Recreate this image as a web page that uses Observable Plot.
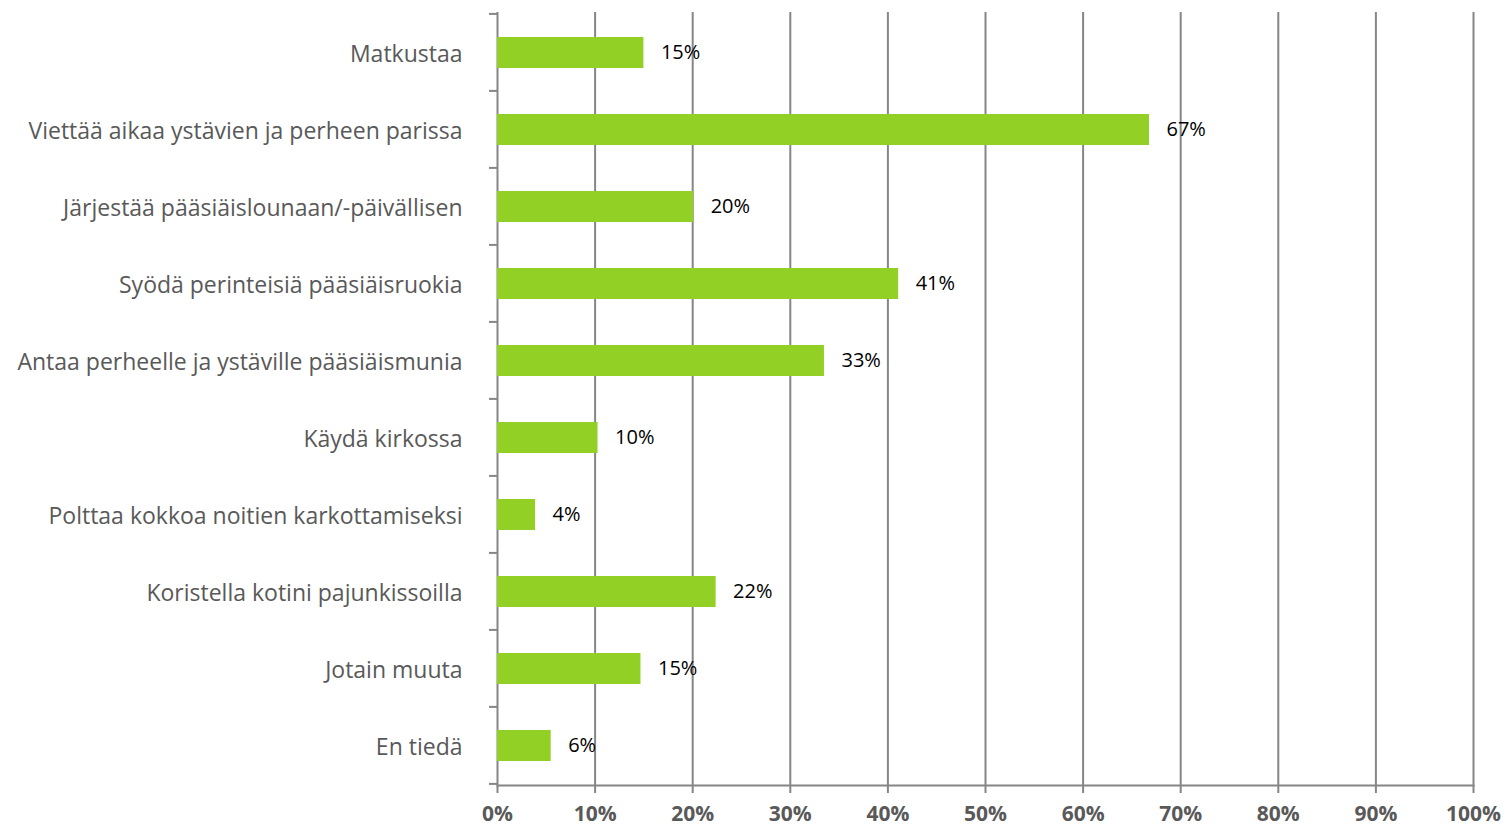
<!DOCTYPE html>
<html>
<head>
<meta charset="utf-8">
<script src="https://cdn.jsdelivr.net/npm/d3@7"></script>
<script src="https://cdn.jsdelivr.net/npm/@observablehq/plot@0.6"></script>
<style>
  html, body { margin: 0; padding: 0; background: #fff; }
  #chart svg { display: block; }
</style>
</head>
<body>
<div id="chart"></div>
<script>
const categories = [
  "Matkustaa",
  "Viettää aikaa ystävien ja perheen parissa",
  "Järjestää pääsiäislounaan/-päivällisen",
  "Syödä perinteisiä pääsiäisruokia",
  "Antaa perheelle ja ystäville pääsiäismunia",
  "Käydä kirkossa",
  "Polttaa kokkoa noitien karkottamiseksi",
  "Koristella kotini pajunkissoilla",
  "Jotain muuta",
  "En tiedä"
];
const values = [0.150, 0.668, 0.201, 0.411, 0.335, 0.103, 0.039, 0.224, 0.147, 0.055];
const valueLabels = ["15%", "67%", "20%", "41%", "33%", "10%", "4%", "22%", "15%", "6%"];
const xTicks = [0, 0.1, 0.2, 0.3, 0.4, 0.5, 0.6, 0.7, 0.8, 0.9, 1.0];

const data = categories.map((c, i) => ({category: c, value: values[i], label: valueLabels[i]}));

const gray = "#868686";
const barColor = "#93d025";

// short tick marks on the category boundaries, left of the y axis
function boundaryTicks(index, scales) {
  const g = d3.create("svg:g");
  const ys = categories.map(c => scales.y(c));
  const step = ys[1] - ys[0];
  const bw = step * 0.4;
  const pad = (step - bw) / 2;
  const x0 = scales.x(0);
  const bounds = ys.map(y => y - pad).concat([ys[ys.length - 1] + bw + pad]);
  for (const y of bounds) {
    g.append("line")
      .attr("x1", x0 - 8).attr("x2", x0)
      .attr("y1", y).attr("y2", y)
      .attr("stroke", gray).attr("stroke-width", 2);
  }
  return g.node();
}

const chart = Plot.plot({
  width: 1506,
  height: 829,
  marginLeft: 497,
  marginRight: 33,
  marginTop: 12,
  marginBottom: 44,
  style: {fontFamily: "'Open Sans', sans-serif", background: "#fff"},
  x: {domain: [0, 1]},
  y: {domain: categories, paddingInner: 0.6, paddingOuter: 0.3},
  marks: [
    Plot.ruleX(xTicks, {stroke: gray, strokeWidth: 2, strokeOpacity: 1}),
    Plot.barX(data, {y: "category", x: "value", fill: barColor}),
    Plot.axisX({
      ticks: xTicks,
      tickFormat: d => Math.round(d * 100) + "%",
      tickSize: 8,
      tickPadding: 13,
      stroke: gray,
      strokeWidth: 2,
      strokeOpacity: 1,
      fill: "#595959",
      fontSize: 21,
      fontWeight: "bold",
      label: null
    }),
    Plot.axisY({
      tickSize: 0,
      tickPadding: 35,
      fill: "#595959",
      fontSize: 23,
      dy: 2,
      label: null
    }),
    Plot.frame({anchor: "bottom", stroke: gray, strokeWidth: 2}),
    Plot.text(data, {
      y: "category", x: "value", text: "label",
      textAnchor: "start", dx: 17, fill: "#000", fontSize: 20
    }),
    boundaryTicks
  ]
});
document.getElementById("chart").append(chart);
</script>
</body>
</html>
